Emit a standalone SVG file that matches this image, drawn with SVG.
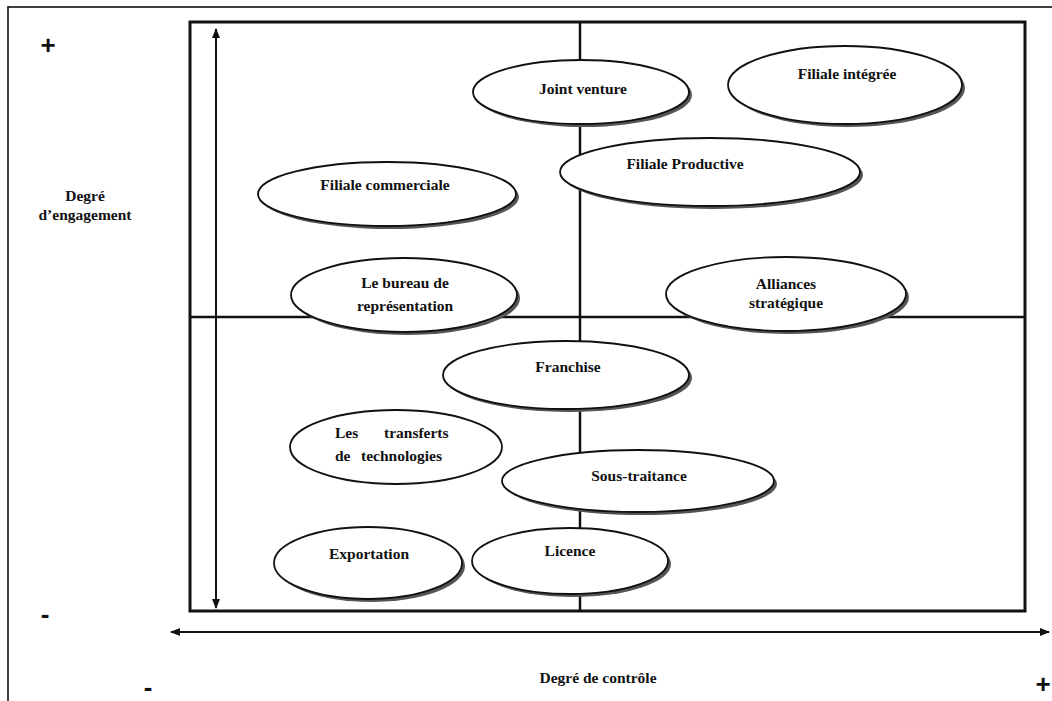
<svg xmlns="http://www.w3.org/2000/svg" width="1052" height="701" viewBox="0 0 1052 701">
<defs>
<style>
.t{font-family:"Liberation Serif","DejaVu Serif",serif;font-weight:bold;font-size:15.5px;fill:#111;text-anchor:middle}
.s{font-family:"Liberation Sans","DejaVu Sans",sans-serif;font-weight:bold;fill:#111;text-anchor:middle}
.e{fill:#fff;stroke:#111;stroke-width:1.8}
.sh{fill:#555;stroke:none}
.ln{stroke:#111;fill:none}
</style>
<marker id="ah" viewBox="0 0 10 10" refX="9" refY="5" markerWidth="10" markerHeight="10" markerUnits="userSpaceOnUse" orient="auto-start-reverse">
<path d="M0,1 L10,5 L0,9 Z" fill="#111"/>
</marker>
</defs>
<rect width="1052" height="701" fill="#fff"/>
<rect x="8" y="7" width="1060" height="710" class="ln" stroke-width="1.6"/>
<g id="frame">
<rect x="190" y="22" width="835" height="589" class="ln" stroke-width="3"/>
<line x1="580" y1="22" x2="580" y2="611" class="ln" stroke-width="2.5"/>
<line x1="190" y1="317" x2="1025" y2="317" class="ln" stroke-width="2.5"/>
</g>
<g id="connectors">
<line x1="216" y1="29" x2="216" y2="608" class="ln" stroke-width="2" marker-start="url(#ah)" marker-end="url(#ah)"/>
<line x1="171" y1="632" x2="1049" y2="632" class="ln" stroke-width="2" marker-start="url(#ah)" marker-end="url(#ah)"/>
</g>
<g id="n-joint">
<ellipse cx="584" cy="95" rx="108" ry="32" class="sh"/>
<ellipse cx="581" cy="92" rx="108" ry="32" class="e"/>
<text x="583" y="94" class="t">Joint venture</text>
</g>
<g id="n-integree">
<ellipse cx="848" cy="88" rx="117" ry="39" class="sh"/>
<ellipse cx="845" cy="85" rx="117" ry="39" class="e"/>
<text x="847" y="79" class="t">Filiale intégrée</text>
</g>
<g id="n-productive">
<ellipse cx="713" cy="175" rx="150" ry="34" class="sh"/>
<ellipse cx="710" cy="172" rx="150" ry="34" class="e"/>
<text x="685" y="169" class="t">Filiale Productive</text>
</g>
<g id="n-commerciale">
<ellipse cx="390" cy="197" rx="129" ry="32" class="sh"/>
<ellipse cx="387" cy="194" rx="129" ry="32" class="e"/>
<text x="385" y="190" class="t">Filiale commerciale</text>
</g>
<g id="n-bureau">
<ellipse cx="407" cy="298" rx="113" ry="37" class="sh"/>
<ellipse cx="404" cy="295" rx="113" ry="37" class="e"/>
<text x="405" y="288" class="t">Le bureau de</text>
<text x="405" y="311" class="t">représentation</text>
</g>
<g id="n-alliances">
<ellipse cx="789" cy="297" rx="120" ry="37" class="sh"/>
<ellipse cx="786" cy="294" rx="120" ry="37" class="e"/>
<text x="786" y="289" class="t">Alliances</text>
<text x="786" y="308" class="t">stratégique</text>
</g>
<g id="n-franchise">
<ellipse cx="569" cy="378" rx="123" ry="34" class="sh"/>
<ellipse cx="566" cy="375" rx="123" ry="34" class="e"/>
<text x="568" y="372" class="t">Franchise</text>
</g>
<g id="n-transferts">
<ellipse cx="396" cy="447" rx="106" ry="37" class="e"/>
<text y="438" class="t" style="text-anchor:start"><tspan x="335">Les </tspan><tspan x="384">transferts</tspan></text>
<text y="461" class="t" style="text-anchor:start"><tspan x="335">de </tspan><tspan x="361">technologies</tspan></text>
</g>
<g id="n-sous">
<ellipse cx="641" cy="484" rx="136" ry="31" class="sh"/>
<ellipse cx="638" cy="481" rx="136" ry="31" class="e"/>
<text x="639" y="481" class="t">Sous-traitance</text>
</g>
<g id="n-export">
<ellipse cx="371" cy="566" rx="94" ry="36" class="sh"/>
<ellipse cx="368" cy="563" rx="94" ry="36" class="e"/>
<text x="369" y="559" class="t">Exportation</text>
</g>
<g id="n-licence">
<ellipse cx="573" cy="564" rx="98" ry="33" class="sh"/>
<ellipse cx="570" cy="561" rx="98" ry="33" class="e"/>
<text x="570" y="556" class="t">Licence</text>
</g>
<g id="labels">
<text x="48" y="54" class="s" font-size="26">+</text>
<text x="85" y="201" class="t" font-size="14">Degré</text>
<text x="85" y="220" class="t" font-size="14">d’engagement</text>
<text x="45" y="623" class="s" font-size="26">-</text>
<text x="148" y="696" class="s" font-size="26">-</text>
<text x="598" y="683" class="t" font-size="14">Degré de contrôle</text>
<text x="1043" y="693" class="s" font-size="26">+</text>
</g>
</svg>
